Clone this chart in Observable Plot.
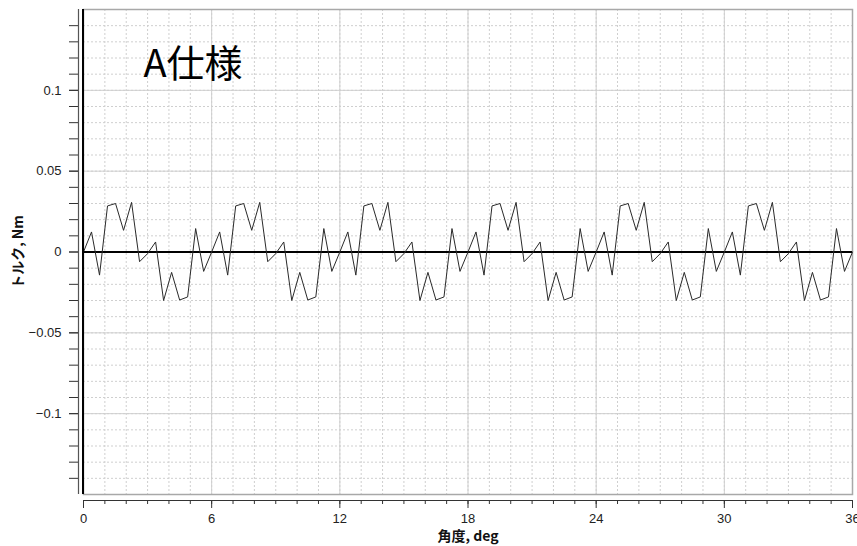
<!DOCTYPE html>
<html><head><meta charset="utf-8">
<script src="https://cdn.jsdelivr.net/npm/d3@7"></script>
<script src="https://cdn.jsdelivr.net/npm/@observablehq/plot@0.6"></script>
<style>
body{margin:0;background:#fff;}
#chart svg{display:block;}
</style>
</head><body><div id="chart"></div>
<script>
const title = "A仕様";
const xLabel = "角度, deg";
const yLabel = "トルク, Nm";

const angles = [
  0,0.375,0.75,1.125,1.5,1.875,2.25,2.625,3,3.375,3.75,4.125,4.5,4.875,5.25,5.625,
  6,6.375,6.75,7.125,7.5,7.875,8.25,8.625,9,9.375,9.75,10.125,10.5,10.875,11.25,11.625,
  12,12.375,12.75,13.125,13.5,13.875,14.25,14.625,15,15.375,15.75,16.125,16.5,16.875,17.25,17.625,
  18,18.375,18.75,19.125,19.5,19.875,20.25,20.625,21,21.375,21.75,22.125,22.5,22.875,23.25,23.625,
  24,24.375,24.75,25.125,25.5,25.875,26.25,26.625,27,27.375,27.75,28.125,28.5,28.875,29.25,29.625,
  30,30.375,30.75,31.125,31.5,31.875,32.25,32.625,33,33.375,33.75,34.125,34.5,34.875,35.25,35.625,
  36
];
const torque = [
  0.0,0.0124,-0.0143,0.0285,0.0300,0.0134,0.0307,-0.0060,-0.0010,0.0062,-0.0300,-0.0126,-0.0297,-0.0278,0.0145,-0.0120,
  0.0,0.0124,-0.0143,0.0285,0.0300,0.0134,0.0307,-0.0060,-0.0010,0.0062,-0.0300,-0.0126,-0.0297,-0.0278,0.0145,-0.0120,
  0.0,0.0124,-0.0143,0.0285,0.0300,0.0134,0.0307,-0.0060,-0.0010,0.0062,-0.0300,-0.0126,-0.0297,-0.0278,0.0145,-0.0120,
  0.0,0.0124,-0.0143,0.0285,0.0300,0.0134,0.0307,-0.0060,-0.0010,0.0062,-0.0300,-0.0126,-0.0297,-0.0278,0.0145,-0.0120,
  0.0,0.0124,-0.0143,0.0285,0.0300,0.0134,0.0307,-0.0060,-0.0010,0.0062,-0.0300,-0.0126,-0.0297,-0.0278,0.0145,-0.0120,
  0.0,0.0124,-0.0143,0.0285,0.0300,0.0134,0.0307,-0.0060,-0.0010,0.0062,-0.0300,-0.0126,-0.0297,-0.0278,0.0145,-0.0120,
  0.0
];

const xDomain = [0, 36];
const yDomain = [-0.15, 0.15];
const xMajorTicks = [0, 6, 12, 18, 24, 30, 36];
const xMinorTicks = [0,1,2,3,4,5,6,7,8,9,10,11,12,13,14,15,16,17,18,19,20,21,22,23,24,25,26,27,28,29,30,31,32,33,34,35,36];
const yMajorTicks = [-0.1, -0.05, 0, 0.05, 0.1];
const yMajorLabels = ["−0.1", "−0.05", "0", "0.05", "0.1"];
const yMinorTicks = [-0.14,-0.13,-0.12,-0.11,-0.1,-0.09,-0.08,-0.07,-0.06,-0.05,-0.04,-0.03,-0.02,-0.01,0,
                     0.01,0.02,0.03,0.04,0.05,0.06,0.07,0.08,0.09,0.1,0.11,0.12,0.13,0.14];

const data = angles.map((a, i) => ({angle: a, torque: torque[i]}));
const gridColor = "#cfcfcf";

const chart = Plot.plot({
  width: 857,
  height: 546,
  marginLeft: 83,
  marginRight: 5,
  marginTop: 9,
  marginBottom: 52,
  style: {fontFamily: "'Liberation Sans', Arial, sans-serif", fontSize: "12px", color: "#222", background: "#fff"},
  x: {domain: xDomain, axis: null},
  y: {domain: yDomain, axis: null},
  marks: [
    Plot.gridY(yMinorTicks, {stroke: gridColor, strokeOpacity: 1, strokeDasharray: "2,2"}),
    Plot.gridX(xMinorTicks, {stroke: gridColor, strokeOpacity: 1, strokeDasharray: "2,2"}),
    Plot.gridY(yMajorTicks, {stroke: gridColor, strokeOpacity: 1}),
    Plot.gridX(xMajorTicks, {stroke: gridColor, strokeOpacity: 1}),
    Plot.frame({stroke: "#a8a8a8", strokeWidth: 1.5}),
    Plot.ruleY([0], {stroke: "#000", strokeWidth: 2}),
    Plot.line(data, {x: "angle", y: "torque", stroke: "#2a2a2a", strokeWidth: 1}),
    Plot.ruleX([xDomain[0]], {stroke: "#000", strokeWidth: 2, dx: -0.5}),
    // y axis
    Plot.ruleX([xDomain[0]], {stroke: "#555", strokeWidth: 1.2, dx: -5, y1: yDomain[0], y2: yDomain[1]}),
    Plot.axisY(yMinorTicks, {anchor: "left", tickSize: 9, dx: -5, tickFormat: () => "", label: null, stroke: "#333"}),
    Plot.axisY(yMajorTicks, {anchor: "left", tickSize: 9, dx: -5, tickPadding: 8, label: null, stroke: "#333", fill: "#222", fontSize: 13,
      tickFormat: d => yMajorLabels[yMajorTicks.indexOf(d)]}),
    // x axis
    Plot.ruleY([yDomain[0]], {stroke: "#333", strokeWidth: 1, dy: 6}),
    Plot.axisX(xMinorTicks, {anchor: "bottom", tickSize: 4, dy: 6, tickFormat: () => "", label: null, stroke: "#333"}),
    Plot.axisX(xMajorTicks, {anchor: "bottom", tickSize: 8, dy: 6, tickPadding: 5, label: null, stroke: "#333", fill: "#222", fontSize: 13}),
    // labels
    Plot.text([title], {frameAnchor: "top-left", dx: 60, dy: 41, text: d => d, textAnchor: "start", fontSize: 38, fill: "#000", fontFamily: "'Noto Sans CJK JP', sans-serif"}),
    Plot.text([yLabel], {frameAnchor: "left", dx: -65, text: d => d, rotate: -90, textAnchor: "middle", fontSize: 14, fontWeight: "bold", fill: "#111", fontFamily: "'Noto Sans CJK JP', sans-serif"}),
    Plot.text([xLabel], {frameAnchor: "bottom", dy: 46, text: d => d, textAnchor: "middle", fontSize: 14, fontWeight: "bold", fill: "#111", fontFamily: "'Noto Sans CJK JP', sans-serif"})
  ]
});
document.getElementById("chart").appendChild(chart);
</script>
</body></html>
